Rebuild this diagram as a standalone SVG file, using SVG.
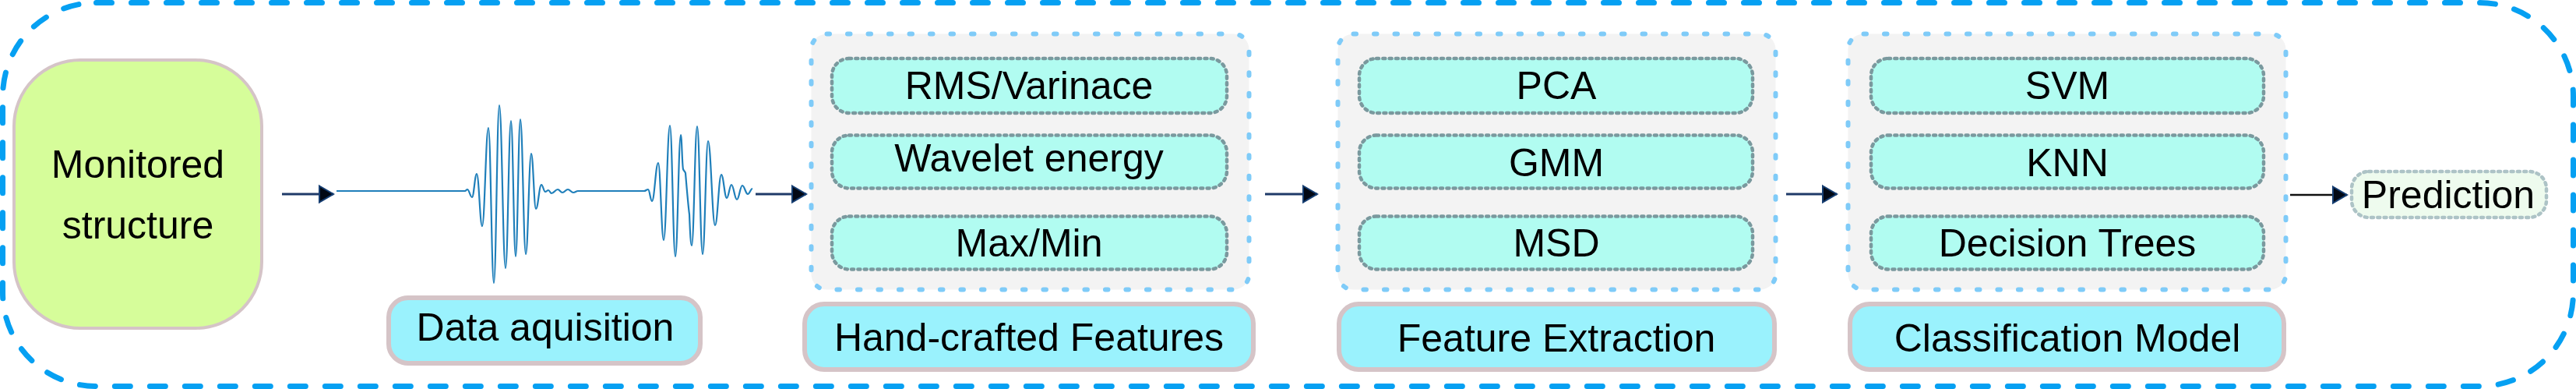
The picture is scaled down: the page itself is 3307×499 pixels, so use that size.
<svg xmlns="http://www.w3.org/2000/svg" width="3307" height="499" viewBox="0 0 3307 499">
<style>
.t{font-family:"Liberation Sans",Arial,sans-serif;font-size:50px;fill:#000;text-anchor:middle}
.grp{fill:#f3f3f3;stroke:#7fcbf8;stroke-width:6;stroke-dasharray:3.5 23;stroke-linecap:round}
.inner{fill:#b1fcf1;stroke:#7a999e;stroke-width:4.5;stroke-dasharray:3 5.3;stroke-linecap:round}
.label{fill:#9af2fd;stroke:#d5c4c7;stroke-width:6}
.conn{stroke:#1f3a68;stroke-width:3;fill:none}
</style>
<defs>
<marker id="ah" markerUnits="userSpaceOnUse" markerWidth="24" markerHeight="26" viewBox="0 0 24 26" refX="21" refY="13" orient="auto">
<path d="M3,2.5 L21,13 L3,23.5 Z" fill="#020814" stroke="#163e72" stroke-width="2" stroke-linejoin="miter"/>
</marker>
</defs>
<rect x="3.5" y="3.5" width="3300" height="492" rx="120" fill="none" stroke="#06a0f2" stroke-width="7" stroke-dasharray="20 25" stroke-linecap="round"/>

<g id="monitored">
<rect x="18" y="77" width="318" height="344" rx="85" fill="#d6fd9a" stroke="#d5c4c7" stroke-width="4"/>
<text class="t" x="177" y="228">Monitored</text>
<text class="t" x="177" y="306">structure</text>
</g>

<g id="waveform">
<path d="M432,245 L597,245 C598.2,245 598.8,243 600,243 C602.4,243 603.6,253 606,253 C608.4,253 609.6,223 612,223 C614.8,223 616.2,290 619,290 C622.2,290 623.8,164 627,164 C629.8,164 631.2,363 634,363 C636.8,363 638.2,135 641,135 C644.2,135 645.8,344 649,344 C651.8,344 653.2,155 656,155 C658.4,155 659.6,329 662,329 C664.4,329 665.6,153 668,153 C670.8,153 672.2,326 675,326 C677.8,326 679.2,197 682,197 C684.4,197 685.6,268 688,268 C690.8,268 692.2,237 695,237 C697,237 698,246 700,246 C701.6,246 702.4,244 704,244 C705.6,244 706.4,248 708,248 C711.2,248 712.8,243 716,243 C718.4,243 719.6,247 722,247 C724.8,247 726.2,243 729,243 C731.8,243 733.2,247 736,247 C738.4,247 739.6,245 742,245 L827,245 C829,245 830,243 832,243 C834,243 835,258 837,258 C840.2,258 841.8,209 845,209 C847.8,209 849.2,308 852,308 C855.2,308 856.8,161 860,161 C862.8,161 864.2,329 867,329 C869.8,329 871.2,173 874,173 C875.2,173 875.8,214 877,217 S879,219 880,222 C881.5,240 884,268 885,275 C886,300 886.8,315 888,315 C890.8,315 892.2,162 895,162 C897.8,162 899.2,326 902,326 C904.8,326 906.2,181 909,181 C912.6,181 914.4,289 918,289 C921.2,289 922.8,224 926,224 C928.8,224 930.2,254 933,254 C935.4,254 936.6,237 939,237 C941.8,237 943.2,256 946,256 C948.8,256 950.2,238 953,238 C955.8,238 957.2,249 960,249 C962.4,249 963.6,242 966,242" fill="none" stroke="#1f7fba" stroke-width="2.2" stroke-linejoin="round"/>
</g>

<g id="data-acquisition">
<rect class="label" x="499" y="382" width="400" height="84" rx="25"/>
<text class="t" x="700" y="437">Data aquisition</text>
</g>

<g id="handcrafted-features">
<rect class="grp" x="1041.5" y="43.5" width="562" height="328" rx="20"/>
<g id="rms"><rect class="inner" x="1068" y="75" width="507" height="70" rx="22"/><text class="t" x="1321" y="127">RMS/Varinace</text></g>
<g id="wavelet"><rect class="inner" x="1068" y="173.5" width="507" height="68" rx="22"/><text class="t" x="1321" y="220">Wavelet energy</text></g>
<g id="maxmin"><rect class="inner" x="1068" y="277.5" width="507" height="68" rx="22"/><text class="t" x="1321" y="329">Max/Min</text></g>
<rect class="label" x="1033" y="390" width="576" height="84" rx="25"/>
<text class="t" x="1321" y="450">Hand-crafted Features</text>
</g>

<g id="feature-extraction">
<rect class="grp" x="1717.5" y="43.5" width="562" height="328" rx="20"/>
<g id="pca"><rect class="inner" x="1745" y="75" width="505" height="70" rx="22"/><text class="t" x="1998" y="127">PCA</text></g>
<g id="gmm"><rect class="inner" x="1745" y="173.5" width="505" height="68" rx="22"/><text class="t" x="1998" y="226">GMM</text></g>
<g id="msd"><rect class="inner" x="1745" y="277.5" width="505" height="68" rx="22"/><text class="t" x="1998" y="329">MSD</text></g>
<rect class="label" x="1719" y="390" width="559" height="84" rx="25"/>
<text class="t" x="1998" y="451">Feature Extraction</text>
</g>

<g id="classification-model">
<rect class="grp" x="2372.5" y="43.5" width="562" height="328" rx="20"/>
<g id="svm"><rect class="inner" x="2402" y="75" width="504" height="70" rx="22"/><text class="t" x="2654" y="127">SVM</text></g>
<g id="knn"><rect class="inner" x="2402" y="173.5" width="504" height="68" rx="22"/><text class="t" x="2654" y="226">KNN</text></g>
<g id="dtree"><rect class="inner" x="2402" y="277.5" width="504" height="68" rx="22"/><text class="t" x="2654" y="329">Decision Trees</text></g>
<rect class="label" x="2375" y="390" width="557" height="84" rx="25"/>
<text class="t" x="2654" y="451">Classification Model</text>
</g>

<g id="prediction">
<rect x="3019" y="220" width="250" height="59" rx="22" fill="#eefbee" stroke="#adc3c6" stroke-width="4.5" stroke-dasharray="3 5.3" stroke-linecap="round"/>
<text class="t" x="3143" y="267">Prediction</text>
</g>

<g id="connectors">
<line class="conn" x1="362" y1="249" x2="428" y2="249" marker-end="url(#ah)"/>
<line class="conn" x1="970" y1="249" x2="1035" y2="249" marker-end="url(#ah)"/>
<line class="conn" x1="1624" y1="249" x2="1691" y2="249" marker-end="url(#ah)"/>
<line class="conn" x1="2293" y1="249" x2="2358" y2="249" marker-end="url(#ah)"/>
<line class="conn" x1="2940" y1="250" x2="3013" y2="250" marker-end="url(#ah)" style="stroke:#111;stroke-width:2.5"/>
</g>
</svg>
